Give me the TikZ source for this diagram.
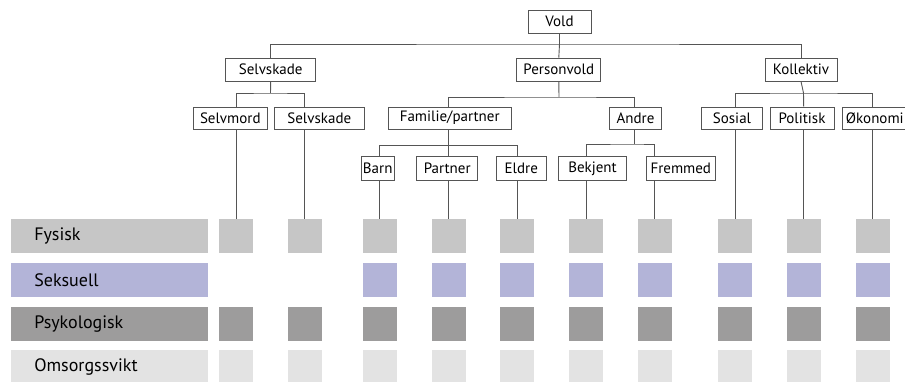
\documentclass[tikz,border=0pt]{standalone}
\usepackage{fontspec}
\setmainfont{PT Sans}
\definecolor{fys}{RGB}{198,198,198}
\definecolor{seks}{RGB}{179,180,216}
\definecolor{psyk}{RGB}{157,156,156}
\definecolor{oms}{RGB}{227,227,227}
\definecolor{edge}{RGB}{85,85,85}
\begin{document}
\begin{tikzpicture}[x=1pt,y=-1pt,
  box/.style={draw=edge,line width=0.9pt,fill=white,inner sep=0pt,minimum height=23pt,font=\fontsize{15}{17}\selectfont},
  leafbox/.style={box,minimum height=22pt},
  conn/.style={draw=edge,line width=0.9pt},
  sq/.style={inner sep=0pt,minimum width=34pt,minimum height=34pt},
  bar/.style={inner sep=0pt,minimum width=196.7pt,minimum height=34pt,text width=150pt,align=left,font=\fontsize{18}{20}\selectfont}]
\useasboundingbox (0,0) rectangle (905,382);
% level 0-2
\node[box,minimum width=63pt] (vold) at (559.5,21.5) {Vold};
\node[box,minimum width=90pt] (selvskade) at (270.7,69.5) {Selvskade};
\node[box,minimum width=84pt] (person) at (558.8,69.5) {Personvold};
\node[box,minimum width=72pt] (koll) at (801,69.5) {Kollektiv};
\node[leafbox,minimum width=74pt] (selvmord) at (230.3,118) {Selvmord};
\node[leafbox,minimum width=90pt] (selvskadeb) at (319.3,118) {Selvskade};
\node[leafbox,minimum width=123pt] (familie) at (449.7,118) {Familie/partner};
\node[leafbox,minimum width=52pt] (andre) at (635.5,118) {Andre};
\node[leafbox,minimum width=61pt] (sosial) at (732,118) {Sosial};
\node[leafbox,minimum width=64pt] (politisk) at (802,118) {Politisk};
\node[leafbox,minimum width=80pt,anchor=west,text width=74pt,align=left] (okonomi) at (841.5,118) {\hspace*{1pt}Økonomi};
\node[leafbox,minimum width=33pt,minimum height=23.5pt] (barn) at (377.7,168.3) {Barn};
\node[leafbox,minimum width=61pt,minimum height=23.5pt] (partner) at (447.2,168.3) {Partner};
\node[leafbox,minimum width=50.7pt,minimum height=23.5pt] (eldre) at (521.3,168.3) {Eldre};
\node[leafbox,minimum width=68.4pt,minimum height=23.5pt] (bekjent) at (592.5,168.3) {Bekjent};
\node[leafbox,minimum width=68.3pt,minimum height=23.5pt] (fremmed) at (680.8,168.3) {Fremmed};
% row bars
\node[bar,fill=fys] (rfys) at (109.3,236.3) {Fysisk};
\node[bar,fill=seks] (rseks) at (109.3,280) {Seksuell};
\node[bar,fill=psyk] (rpsyk) at (109.3,323.9) {Psykologisk};
\node[bar,fill=oms] (roms) at (109.3,367.2) {Omsorgssvikt};
% squares
\foreach \i/\x in {1/236,2/304.7,3/379.5,4/448.5,5/517,6/586,7/654.5,8/735,9/803.7,10/872.7}{
  \node[sq,fill=fys] (f\i) at (\x,236.3) {};
  \node[sq,fill=psyk] (p\i) at (\x,323.9) {};
  \node[sq,fill=oms] (o\i) at (\x,367.2) {};
}
\foreach \i/\x in {3/379.5,4/448.5,5/517,6/586,7/654.5,8/735,9/803.7,10/872.7}{
  \node[sq,fill=seks] (s\i) at (\x,280) {};
}
% bar coordinates
\coordinate (b1) at (559.5,44);
\coordinate (b2) at (270.5,93);
\coordinate (b3) at (559,97);
\coordinate (b4) at (803.5,93);
\coordinate (b5) at (448.5,145.5);
\coordinate (b6) at (634,144);
% connectors
\draw[conn] (vold.south) -- (b1);
\draw[conn] (selvskade.north) |- (b1) -| (koll.north);
\draw[conn] (b1) -- (person.north);
\draw[conn] (selvskade.south) -- (b2);
\draw[conn] (f1.north |- selvmord.north) |- (b2) -| (f2.north |- selvskadeb.north);
\draw[conn] (person.south) -- (b3);
\draw[conn] (f4.north |- familie.north) |- (b3) -| (b6 |- andre.north);
\draw[conn] (koll.south) -- (b4);
\draw[conn] (f8.north |- sosial.north) |- (b4) -| (f10.north |- okonomi.north);
\draw[conn] (b4) -- (f9.north |- politisk.north);
\draw[conn] (familie.south -| b5) -- (b5);
\draw[conn] (f3.north |- barn.north) |- (b5) -| (f5.north |- eldre.north);
\draw[conn] (b5) -- (f4.north |- partner.north);
\draw[conn] (andre.south -| b6) -- (b6);
\draw[conn] (f6.north |- bekjent.north) |- (b6) -| (f7.north |- fremmed.north);
% drops to squares
\draw[conn] (f1.north |- selvmord.south) -- (f1.north);
\draw[conn] (f2.north |- selvskadeb.south) -- (f2.north);
\draw[conn] (f3.north |- barn.south) -- (f3.north);
\draw[conn] (f4.north |- partner.south) -- (f4.north);
\draw[conn] (f5.north |- eldre.south) -- (f5.north);
\draw[conn] (f6.north |- bekjent.south) -- (f6.north);
\draw[conn] (f7.north |- fremmed.south) -- (f7.north);
\draw[conn] (f8.north |- sosial.south) -- (f8.north);
\draw[conn] (f9.north |- politisk.south) -- (f9.north);
\draw[conn] (f10.north |- okonomi.south) -- (f10.north);
\end{tikzpicture}
\end{document}
